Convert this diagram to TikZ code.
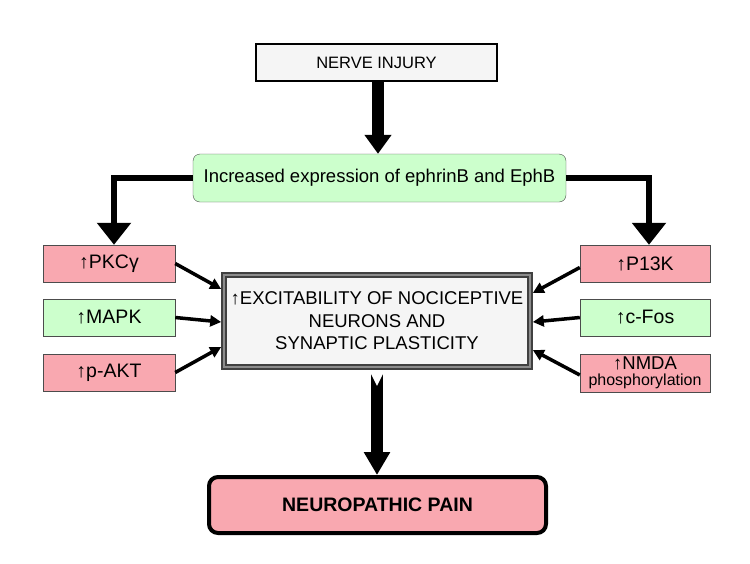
\documentclass[tikz,border=0pt]{standalone}
\usepackage{fontspec}
\setmainfont{Liberation Sans}
\usetikzlibrary{arrows.meta,calc,positioning}
\definecolor{painpink}{HTML}{F9A8B0}
\definecolor{ephgreen}{HTML}{CCFFCC}
\definecolor{boxgray}{HTML}{F5F5F5}

\begin{document}
\begin{tikzpicture}[x=1pt,y=-1pt,
  redbox/.style={draw=black!70,fill=painpink,minimum width=132pt,
    minimum height=37pt,inner sep=0pt,font=\fontsize{19.5}{21}\selectfont},
  greenbox/.style={redbox,fill=ephgreen},
  bigarrow/.style={line width=12pt,-{Triangle[width=26pt,length=19pt]}},
  sidearrow/.style={line width=5.5pt,-{Triangle[width=33pt,length=22pt]}},
  smallarrow/.style={line width=3.5pt,-{Triangle[width=11pt,length=11pt]}}]
% picture frame
\useasboundingbox (0,0) rectangle (750,563);
%
% top of the chain
\node[draw,line width=2pt,fill=boxgray,minimum width=241pt,minimum height=37pt,
      inner sep=0pt,font=\fontsize{16.5}{18}\selectfont] (injury) at (376.5,62.5) {NERVE INJURY};
\node[draw=black!70,fill=ephgreen,rounded corners=7pt,minimum width=373pt,
      minimum height=48pt,inner sep=0pt,font=\fontsize{18.5}{20}\selectfont] (expr) at (379.5,178)
      {Increased expression of ephrinB and EphB};
\draw[bigarrow] ([xshift=1.5pt]injury.south) -- ([xshift=1.5pt]injury.south |- expr.north);
%
% left column
\node[redbox] (pkc) at (109,263.5) {↑PKCγ};
\node[greenbox] (mapk) at (109,317.5) {↑MAPK};
\node[redbox] (pakt) at (109,372.5) {↑p-AKT};
% right column
\node[redbox,minimum width=130pt] (p13k) at (645,263.5) {↑P13K};
\node[greenbox,minimum width=130pt] (cfos) at (645,317.5) {↑c-Fos};
\node[redbox,minimum width=130pt,minimum height=38pt,align=center,
      font=\fontsize{18.5}{17}\selectfont] (nmda) at (645,373)
      {↑NMDA\\[-1pt]{\fontsize{16}{16}\selectfont phosphorylation}};
%
% branches from ephrin box
\draw[sidearrow] (expr.west) -| ([xshift=5pt]pkc.north);
\draw[sidearrow] (expr.east) -| ([xshift=4pt]p13k.north);
%
% middle box
\node[draw=black!75,double=black!45,double distance=2pt,line width=1.6pt,
      fill=boxgray,minimum width=306pt,minimum height=92pt,inner sep=0pt,align=center,
      font=\fontsize{18.5}{22.5}\selectfont] (excite) at (377,321)
      {↑EXCITABILITY OF NOCICEPTIVE\\NEURONS AND\\SYNAPTIC PLASTICITY};
% inputs to middle box
\draw[smallarrow] (pkc.east) -- ($(excite.west)+(-2,-32)$);
\draw[smallarrow] (mapk.east) -- ($(excite.west)+(-2,1)$);
\draw[smallarrow] (pakt.east) -- ($(excite.west)+(-2,26)$);
\draw[smallarrow] ([yshift=-4pt]p13k.west) -- ($(excite.east)+(2,-28)$);
\draw[smallarrow] (cfos.west) -- ($(excite.east)+(2,1)$);
\draw[smallarrow] ([yshift=-2pt]nmda.west) -- ($(excite.east)+(2,29)$);
%
% outcome
\node[draw,line width=4pt,fill=painpink,rounded corners=9pt,minimum width=337pt,
      minimum height=56pt,inner sep=0pt,font=\bfseries\fontsize{19.5}{21}\selectfont]
      (pain) at (377.5,505) {NEUROPATHIC PAIN};
\draw[line width=12pt,-{Triangle[width=25pt,length=23pt]},shorten <=5pt]
      (excite.south) -- (excite.south |- pain.north);
% notch in the arrow tail
\fill[white] ($(excite.south)+(-7,4)$) -- ($(excite.south)+(7,4)$)
      -- ($(excite.south)+(0,18)$) -- cycle;
\end{tikzpicture}
\end{document}
